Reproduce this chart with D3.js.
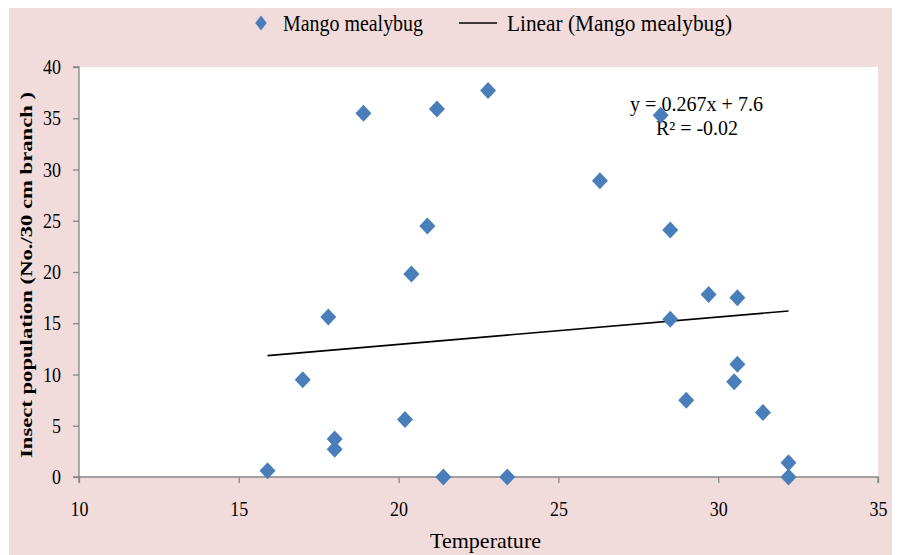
<!DOCTYPE html>
<html><head><meta charset="utf-8">
<script src="https://cdn.jsdelivr.net/npm/d3@7"></script>
<style>body{margin:0;background:#fff}svg{display:block}svg text{font-family:"Liberation Serif","Times New Roman",serif;fill:#000}</style>
</head><body><svg id="c" width="900" height="555"></svg>
<script>
const temperature = [15.9,17.0,17.8,18.0,18.0,18.9,20.2,20.4,20.9,21.2,21.4,22.8,23.4,26.3,28.2,28.5,28.5,29.0,29.7,30.6,30.6,30.5,31.4,32.2,32.2];
const population  = [0.6,9.5,15.6,3.7,2.7,35.5,5.6,19.8,24.5,35.9,0,37.7,0,28.9,35.3,24.1,15.4,7.5,17.8,17.5,11.0,9.3,6.3,1.4,0];
const xTicks = [10,15,20,25,30,35];
const yTicks = [0,5,10,15,20,25,30,35,40];
const slope = 0.267, intercept = 7.6;
const seriesName = "Mango mealybug";
const trendName = "Linear (Mango mealybug)";
const eqText = "y = 0.267x + 7.6";
const r2Text = "R² = -0.02";
const xTitle = "Temperature";
const yTitle = "Insect population (No./30 cm branch )";

const svg = d3.select("#c");
svg.append("rect").attr("x",9).attr("y",8).attr("width",883).attr("height",547).attr("fill","#f2dcdb");
const L=79,R=878,T=67,B=477;
const x = d3.scaleLinear().domain([10,35]).range([L,R]);
const y = d3.scaleLinear().domain([0,40]).range([B,T]);
svg.append("rect").attr("x",L).attr("y",T).attr("width",R-L).attr("height",B-T).attr("fill","#fff");

const diamondType = (w,h)=>({draw(ctx){ctx.moveTo(0,-h);ctx.lineTo(w,0);ctx.lineTo(0,h);ctx.lineTo(-w,0);ctx.closePath();}});

const gx = svg.append("g").attr("transform",`translate(0,${B})`)
  .call(d3.axisBottom(x).tickValues(xTicks).tickSize(6).tickFormat(d3.format("d")));
const gy = svg.append("g").attr("transform",`translate(${L},0)`)
  .call(d3.axisLeft(y).tickValues(yTicks).tickSize(6).tickFormat(d3.format("d")));
[gx,gy].forEach(g=>{
  g.attr("font-family",null).attr("font-size",null);
  g.selectAll("path,line").attr("stroke","#868686").attr("stroke-width",1.3);
  g.selectAll("text").attr("fill","#000").style("font-size","18px").attr("x",0).attr("y",0).attr("dy",null);
});
gx.selectAll(".tick text").attr("text-anchor","middle").attr("transform","translate(0,39) scale(1,1.2)");
gy.selectAll(".tick text").attr("text-anchor","end").attr("transform","translate(-18,6.5) scale(1,1.2)");
gx.select(".domain").attr("d",`M${L},6V0H${R}V6`);
gy.select(".domain").attr("d",`M-6,${T}H0V${B}H-6`);

// trend line
const xs = d3.extent(temperature);
svg.append("line").attr("x1",x(xs[0])).attr("y1",y(slope*xs[0]+intercept))
  .attr("x2",x(xs[1])).attr("y2",y(slope*xs[1]+intercept))
  .attr("stroke","#000").attr("stroke-width",1.6);

// equation
svg.append("text").attr("x",630).attr("y",111).style("font-size","20px").attr("textLength",133).attr("lengthAdjust","spacingAndGlyphs").text(eqText);
svg.append("text").attr("x",656).attr("y",135).style("font-size","20px").attr("textLength",82).attr("lengthAdjust","spacingAndGlyphs").text(r2Text);

// points
svg.append("g").selectAll("path").data(temperature).join("path")
  .attr("d",d3.symbol().type(diamondType(8,8.5)))
  .attr("transform",(d,i)=>`translate(${x(d)},${y(population[i])})`)
  .attr("fill","#4a7ebb");

// titles
svg.append("text").attr("x",430).attr("y",548).style("font-size","22px").attr("textLength",111).attr("lengthAdjust","spacingAndGlyphs").text(xTitle);
svg.append("text").attr("transform","translate(32,458) rotate(-90)")
  .style("font-size","17px").attr("font-weight","bold").attr("textLength",366).attr("lengthAdjust","spacingAndGlyphs").text(yTitle);

// legend
const lg = svg.append("g");
lg.append("path").attr("d",d3.symbol().type(diamondType(5.8,7.5))).attr("transform","translate(261,23)").attr("fill","#4a7ebb");
lg.append("text").attr("transform","translate(283,31) scale(1,1.2)").style("font-size","20px").attr("textLength",140).attr("lengthAdjust","spacingAndGlyphs").text(seriesName);
lg.append("line").attr("x1",459).attr("x2",497).attr("y1",23).attr("y2",23).attr("stroke","#000").attr("stroke-width",1.6);
lg.append("text").attr("transform","translate(507,31) scale(1,1.2)").style("font-size","20px").attr("textLength",225).attr("lengthAdjust","spacingAndGlyphs").text(trendName);
</script></body></html>
